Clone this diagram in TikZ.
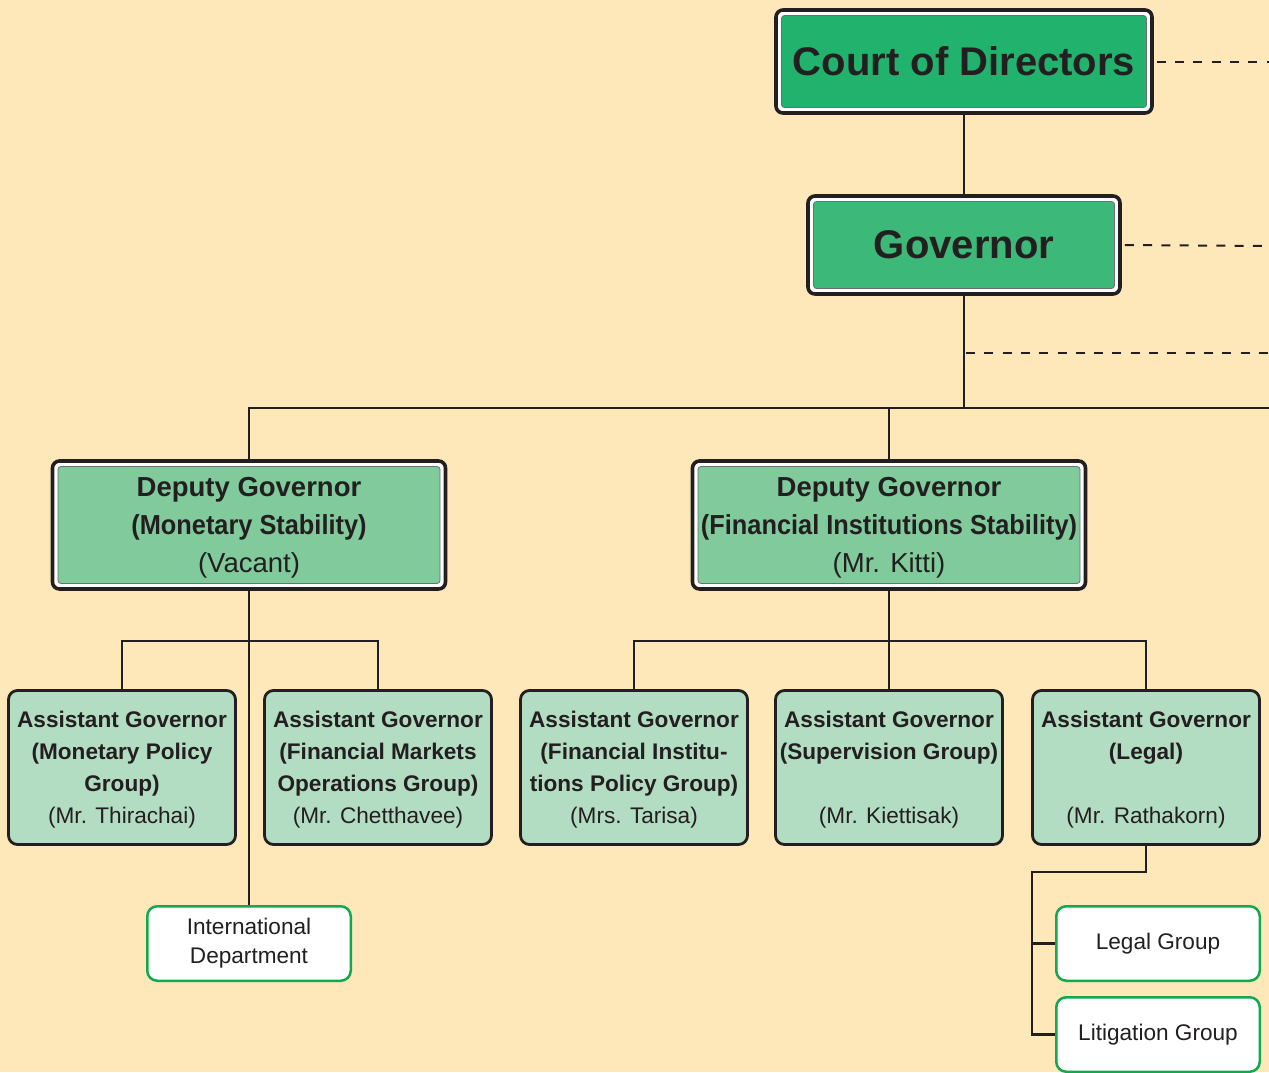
\documentclass[tikz,border=0pt]{standalone}
\usepackage{fontspec}
\setmainfont{Liberation Sans}
\definecolor{bg}{HTML}{FEE8BA}
\definecolor{dark}{HTML}{231F20}
\definecolor{courtfill}{HTML}{21B36D}
\definecolor{govfill}{HTML}{3CB878}
\definecolor{dgfill}{HTML}{80CA9C}
\definecolor{agfill}{HTML}{B2DDC2}
\definecolor{leafgreen}{HTML}{12A84E}
\definecolor{innergray}{HTML}{6D6E70}
\newcommand{\condensed}[1]{\scalebox{0.922}[1]{#1}}
\begin{document}
\begin{tikzpicture}[x=1pt,y=-1pt,
  bigbox/.style={draw=dark, line width=3.6pt, rounded corners=7pt, fill=white,
    inner sep=0pt, align=center, text=dark,
    path picture={\draw[draw=innergray, line width=0.8pt, fill=#1, rounded corners=3pt]
      ([shift={(5.5pt,-5.5pt)}]path picture bounding box.north west) rectangle
      ([shift={(-5.5pt,5.5pt)}]path picture bounding box.south east);}},
  agbox/.style={draw=dark, line width=2.8pt, rounded corners=9pt, fill=agfill,
    minimum width=227pt, minimum height=154pt, inner sep=0pt, align=center,
    text=dark, text depth=0pt, font=\fontsize{22.6}{32}\selectfont},
  leafbox/.style={draw=leafgreen, line width=2.5pt, rounded corners=10pt, fill=white,
    minimum width=203.5pt, minimum height=74.5pt, inner sep=0pt, align=center,
    text=dark, font=\fontsize{22.6}{29}\selectfont},
  conn/.style={draw=dark, line width=2.4pt},
  dashconn/.style={draw=dark, line width=2pt, dash pattern=on 9pt off 9.3pt}
]
\useasboundingbox[fill=bg] (0,0) rectangle (1269,1072);

% top
\node[bigbox=courtfill, minimum width=376pt, minimum height=103pt,
  font=\fontsize{40}{48}\selectfont\bfseries] (court) at (964,61.5) {Court of Directors};
\node[bigbox=govfill, minimum width=312pt, minimum height=98pt,
  font=\fontsize{40}{48}\selectfont\bfseries] (gov) at (964,245) {Governor};

% deputies
\node[bigbox=dgfill, minimum width=393pt, minimum height=128pt, text depth=0pt,
  font=\fontsize{27.5}{38}\selectfont] (dg1) at (249,525)
  {\bfseries Deputy Governor\\\bfseries\condensed{(Monetary Stability)}\\(Vacant)};
\node[bigbox=dgfill, minimum width=393pt, minimum height=128pt, text depth=0pt,
  font=\fontsize{27.5}{38}\selectfont] (dg2) at (889,525)
  {\bfseries Deputy Governor\\\bfseries\condensed{(Financial Institutions Stability)}\\(Mr. Kitti)};

% assistants
\node[agbox] (ag1) at (122,767.5) {\bfseries Assistant Governor\\\bfseries(Monetary Policy\\\bfseries Group)\\(Mr. Thirachai)};
\node[agbox] (ag2) at (378,767.5) {\bfseries Assistant Governor\\\bfseries(Financial Markets\\\bfseries Operations Group)\\(Mr. Chetthavee)};
\node[agbox] (ag3) at (634,767.5) {\bfseries Assistant Governor\\\bfseries(Financial Institu-\\\bfseries tions Policy Group)\\(Mrs. Tarisa)};
\node[agbox] (ag4) at (889,767.5) {\bfseries Assistant Governor\\\bfseries(Supervision Group)\\\mbox{}\\(Mr. Kiettisak)};
\node[agbox] (ag5) at (1146,767.5) {\bfseries Assistant Governor\\\bfseries(Legal)\\\mbox{}\\(Mr. Rathakorn)};

% leaves
\node[leafbox] (intl) at (249,943.5) {International\\Department};
\node[leafbox] (legal) at (1158,943.5) {Legal Group};
\node[leafbox] (litig) at (1158,1034.5) {Litigation Group};

% coordinates
\coordinate (gj) at (964,408);
\coordinate (redge) at (1269,408);
\coordinate (j1) at (249,641);
\coordinate (j2) at (889,641);
\coordinate (lj) at (1032,872);
\coordinate (d1) at (1269,61.5);
\coordinate (d2) at (1269,246);
\coordinate (d3s) at (964,353);
\coordinate (d3) at (1269,353);

% solid connectors
\draw[conn] (court.south) -- (gov.north);
\draw[conn] (gov.south) -- (gj);
\draw[conn] (dg1.north) |- (redge);
\draw[conn] (dg2.north) -- (dg2.north |- gj);
\draw[conn] (dg1.south) -- (intl.north);
\draw[conn] (ag1.north) |- (j1) -| (ag2.north);
\draw[conn] (dg2.south) -- (ag4.north);
\draw[conn] (ag3.north) |- (j2) -| (ag5.north);
\draw[conn] (ag5.south) |- (lj) |- (litig.west);
\draw[conn] (lj |- legal.west) -- (legal.west);

% dashed connectors
\draw[dashconn] ([xshift=3pt]court.east) -- (d1);
\draw[dashconn] ([xshift=3pt]gov.east) -- (d2);
\draw[dashconn] ([xshift=2pt]d3s) -- (d3);
\end{tikzpicture}
\end{document}
